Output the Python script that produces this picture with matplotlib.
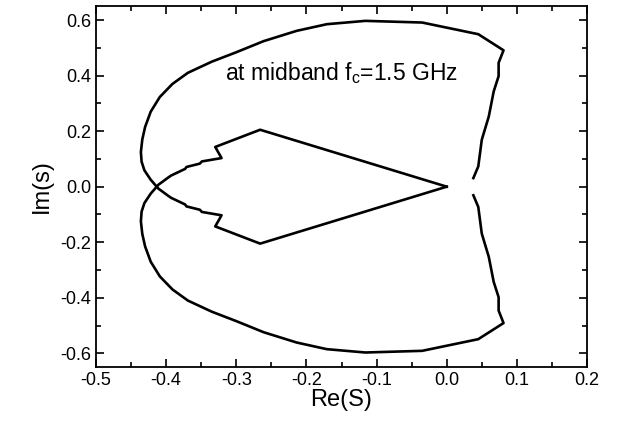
import numpy as np
import matplotlib
matplotlib.use("Agg")
from matplotlib import pyplot as plt
from matplotlib.ticker import MultipleLocator, FormatStrFormatter

plt.rcParams['font.family'] = ['Liberation Sans', 'DejaVu Sans']

# upper branch: from origin out to the diamond, jagged back to the crossing,
# then the lower arc round to the right-hand side
re_s = [0.0, -0.266, -0.330, -0.321, -0.349, -0.352, -0.371, -0.373, -0.393,
        -0.397, -0.411, -0.422, -0.431, -0.435, -0.436, -0.434, -0.430, -0.422,
        -0.409, -0.391, -0.369, -0.335, -0.300, -0.261, -0.214, -0.171,
        -0.116, -0.035, 0.045, 0.081, 0.074, 0.074, 0.067, 0.060, 0.050,
        0.045, 0.038]
im_s = [0.0, 0.205, 0.143, 0.103, 0.091, 0.083, 0.071, 0.064, 0.040,
        0.033, 0.007, -0.025, -0.059, -0.090, -0.125, -0.170, -0.215, -0.270,
        -0.323, -0.370, -0.410, -0.450, -0.484, -0.524, -0.561, -0.585,
        -0.597, -0.591, -0.549, -0.491, -0.446, -0.398, -0.343, -0.253,
        -0.169, -0.073, -0.031]

re_s = np.array(re_s)
im_s = np.array(im_s)

fig = plt.figure(figsize=(6.25, 4.3), dpi=100)
ax = fig.add_axes([0.1536, 0.146, 0.7856, 0.841])

ax.plot(re_s, im_s, color='black', lw=1.9)
ax.plot(re_s, -im_s, color='black', lw=1.9)

ax.text(-0.316, 0.41, r'at midband f$_\mathregular{c}$=1.5 GHz', fontsize=16.5,
        va='center', ha='left')

ax.set_xlim(-0.5, 0.2)
ax.set_ylim(-0.65, 0.652)
ax.xaxis.set_major_locator(MultipleLocator(0.1))
ax.xaxis.set_minor_locator(MultipleLocator(0.05))
ax.yaxis.set_major_locator(MultipleLocator(0.2))
ax.yaxis.set_minor_locator(MultipleLocator(0.1))
ax.xaxis.set_major_formatter(FormatStrFormatter('%.1f'))
ax.yaxis.set_major_formatter(FormatStrFormatter('%.1f'))
ax.tick_params(which='both', direction='in', top=True, right=True, labelsize=13, width=1.2)
ax.tick_params(which='major', length=6)
ax.tick_params(which='minor', length=3.5)
for s in ax.spines.values():
    s.set_linewidth(1.3)

ax.set_xlabel('Re(S)', fontsize=17, labelpad=0)
ax.set_ylabel('Im(s)', fontsize=17, labelpad=5)

fig.savefig('out.png', dpi=100)
